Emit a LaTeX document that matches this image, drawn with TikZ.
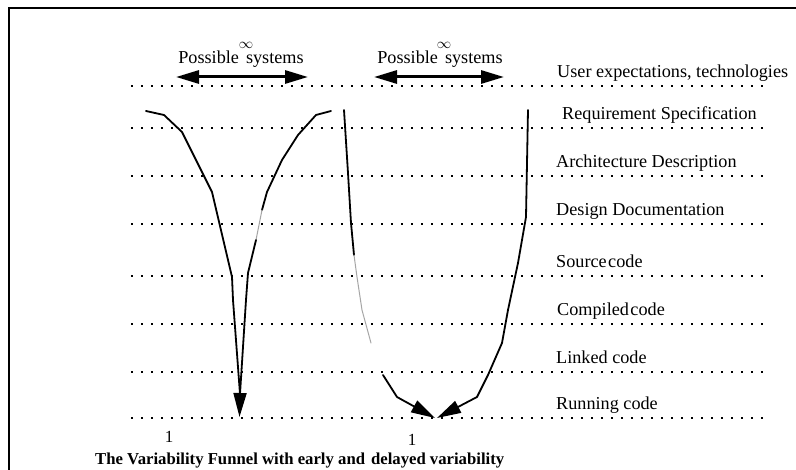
\documentclass[tikz,border=0pt]{standalone}
\usepackage{fontspec}
\setmainfont{Liberation Serif}
\usetikzlibrary{arrows.meta}
\begin{document}
\begin{tikzpicture}[x=1pt,y=-1pt,
  levelline/.style={line width=1.6pt,dash pattern=on 2pt off 8pt},
  lvltext/.style={anchor=base west,inner sep=0pt,font=\fontsize{18.2}{20}\selectfont},
  funnel/.style={line width=1.8pt,line join=round,line cap=round},
  fadedline/.style={line width=1pt,draw=black!35,line cap=round},
  arrowtip/.style={-{Triangle[length=24pt,width=13pt]}},
  spanarrow/.style={line width=3pt,{Triangle[length=23pt,width=13pt]}-{Triangle[length=23pt,width=13pt]}},
  spantext/.style={anchor=base,inner sep=0pt,font=\fontsize{18.2}{20}\selectfont},
  infsign/.style={inner sep=0pt,font=\fontsize{15}{16}\selectfont},
  onelabel/.style={inner sep=0pt,font=\fontsize{17}{18}\selectfont},
]
\useasboundingbox (0,0) rectangle (796,470);
\fill[white] (0,0) rectangle (796,470);
% frame
\draw[line width=1.2pt] (9,480) -- (9,8) -- (806,8);

% levels
\foreach \name/\y/\txt/\dx in {
  user/86/{User expectations, technologies}/557,
  req/128/{Requirement Specification}/562,
  arch/176/{Architecture Description}/556,
  design/224/{Design Documentation}/556,
  src/276/{Source\hspace{1.5pt}code}/556,
  comp/324/{Compiled\hspace{1.5pt}code}/557,
  link/372/{Linked code}/556,
  run/418/{Running code}/556} {
  \coordinate (\name-l) at (131,\y);
  \coordinate (\name-r) at (763,\y);
  \draw[levelline] (\name-l) -- (\name-r);
  \node[lvltext] (\name) at (\dx,\y-8) {\txt};
}

% possible systems, early variability
\node[spantext] (ps1) at (241,64) {Possible\hspace{7pt}systems};
\node[infsign] (inf1) at (246,45) {$\infty$};
\coordinate (r1a) at (176,77);
\coordinate (r1b) at (308,77);
\draw[spanarrow] (r1a) -- (r1b);

% possible systems, delayed variability
\node[spantext] (ps2) at (440,64) {Possible\hspace{7pt}systems};
\node[infsign] (inf2) at (444,45) {$\infty$};
\coordinate (r2a) at (374,77);
\coordinate (r2b) at (504,77);
\draw[spanarrow] (r2a) -- (r2b);

% early variability funnel
\coordinate (e1) at (240,394);
\coordinate (e1tip) at (239.5,417);
\draw[funnel] (146,111) -- (164,115) -- (182,132) -- (212,192) -- (232,277) -- (233,300) -- (e1);
\draw[funnel] (331,111) -- (316,115) -- (298,135) -- (282,160) -- (267,192) -- (262,210);
\draw[fadedline] (262,210) -- (256,240);
\draw[funnel] (256,240) -- (248,273) -- (246,300) -- (e1);
\draw[funnel,arrowtip] (e1) -- (e1tip);

% delayed variability funnel
\coordinate (d1) at (435,418);
\coordinate (d2) at (437,418);
\draw[funnel] (344,110) -- (348,173) -- (351,223) -- (354,255);
\draw[fadedline] (354,255) -- (357,277) -- (362,310) -- (371,343);
\draw[funnel,arrowtip] (383,375) -- (397,397) -- (d1);
\draw[funnel] (528,110) -- (526,217) -- (518,263) -- (508,310) -- (502,343) -- (488,375) -- (477,397);
\draw[funnel,arrowtip] (477,397) -- (d2);

% single resulting system
\node[onelabel] (one1) at (169,437) {1};
\node[onelabel] (one2) at (412,440) {1};

% caption
\node[anchor=base west,inner sep=0pt,font=\fontsize{16.7}{18}\selectfont\bfseries] (cap) at (95,465)
  {The Variability Funnel with early and\hspace{6pt}delayed variability};
\end{tikzpicture}
\end{document}
